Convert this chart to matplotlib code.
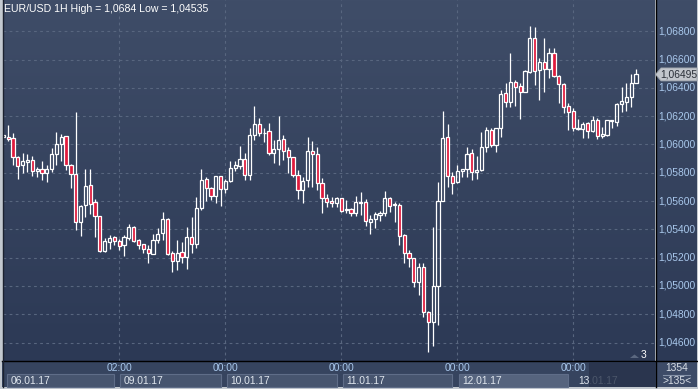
import numpy as np
import matplotlib
matplotlib.use('Agg')
import matplotlib.pyplot as plt
from matplotlib.patches import Rectangle, Polygon
from matplotlib.colors import LinearSegmentedColormap
import matplotlib.transforms as mtransforms

plt.rcParams['font.family'] = ['Liberation Sans', 'DejaVu Sans']

# ---------------- data (EUR/USD, 1H candles) ----------------
opens = [1.06055, 1.06051, 1.06044, 1.05910, 1.05853, 1.05879, 1.05888, 1.05811, 1.05825, 1.05797,
         1.05825, 1.05931, 1.06001, 1.06058, 1.05857, 1.05789, 1.05450, 1.05570, 1.05712, 1.05592,
         1.05493, 1.05250, 1.05313, 1.05346, 1.05316, 1.05292, 1.05341, 1.05417, 1.05323, 1.05295,
         1.05259, 1.05228, 1.05323, 1.05372, 1.05474, 1.05235, 1.05179, 1.05238, 1.05207, 1.05346,
         1.05295, 1.05549, 1.05754, 1.05691, 1.05638, 1.05775, 1.05683, 1.05740, 1.05836, 1.05848,
         1.05895, 1.05787, 1.06065, 1.06147, 1.06079, 1.06093, 1.05942, 1.05966, 1.06037, 1.05959,
         1.05910, 1.05782, 1.05678, 1.05749, 1.05954, 1.05931, 1.05726, 1.05620, 1.05599, 1.05585,
         1.05620, 1.05537, 1.05542, 1.05514, 1.05585, 1.05592, 1.05454, 1.05471, 1.05500, 1.05514,
         1.05620, 1.05570, 1.05573, 1.05358, 1.05231, 1.05196, 1.05026, 1.05132, 1.04818, 1.04748,
         1.05002, 1.05601, 1.06051, 1.05777, 1.05737, 1.05815, 1.05829, 1.05938, 1.05808, 1.05820,
         1.05980, 1.06103, 1.05996, 1.06115, 1.06362, 1.06302, 1.06440, 1.06411, 1.06373, 1.06510,
         1.06751, 1.06527, 1.06581, 1.06536, 1.06645, 1.06484, 1.06428, 1.06272, 1.06237, 1.06107,
         1.06112, 1.06150, 1.06098, 1.06173, 1.06062, 1.06067, 1.06168, 1.06161, 1.06284, 1.06302,
         1.06338, 1.06437]
highs = [1.06067, 1.06138, 1.06081, 1.05919, 1.05938, 1.05933, 1.05919, 1.05843, 1.05883, 1.05853,
         1.05977, 1.06086, 1.06076, 1.06060, 1.05860, 1.06230, 1.05573, 1.05825, 1.05825, 1.05615,
         1.05495, 1.05341, 1.05361, 1.05353, 1.05332, 1.05361, 1.05438, 1.05422, 1.05332, 1.05299,
         1.05288, 1.05365, 1.05408, 1.05525, 1.05481, 1.05250, 1.05325, 1.05313, 1.05419, 1.05486,
         1.05631, 1.05827, 1.05773, 1.05702, 1.05777, 1.05777, 1.05754, 1.05881, 1.05883, 1.05989,
         1.05942, 1.06115, 1.06272, 1.06185, 1.06119, 1.06150, 1.06032, 1.06201, 1.06067, 1.05982,
         1.05914, 1.05820, 1.05768, 1.06053, 1.06025, 1.05985, 1.05761, 1.05650, 1.05627, 1.05631,
         1.05624, 1.05608, 1.05553, 1.05638, 1.05662, 1.05615, 1.05502, 1.05521, 1.05532, 1.05671,
         1.05631, 1.05596, 1.05585, 1.05368, 1.05254, 1.05200, 1.05160, 1.05160, 1.04823, 1.05419,
         1.05733, 1.06237, 1.06145, 1.05806, 1.05853, 1.05827, 1.05985, 1.05968, 1.05919, 1.06086,
         1.06126, 1.06115, 1.06117, 1.06385, 1.06437, 1.06649, 1.06456, 1.06433, 1.06527, 1.06840,
         1.06833, 1.06609, 1.06755, 1.06680, 1.06684, 1.06489, 1.06437, 1.06291, 1.06256, 1.06180,
         1.06161, 1.06161, 1.06201, 1.06189, 1.06126, 1.06175, 1.06175, 1.06295, 1.06409, 1.06433,
         1.06496, 1.06534]
lows = [1.06053, 1.06027, 1.05855, 1.05758, 1.05797, 1.05808, 1.05777, 1.05768, 1.05749, 1.05737,
        1.05808, 1.05855, 1.05883, 1.05820, 1.05695, 1.05396, 1.05356, 1.05486, 1.05507, 1.05348,
        1.05243, 1.05243, 1.05262, 1.05290, 1.05254, 1.05214, 1.05325, 1.05313, 1.05259, 1.05231,
        1.05160, 1.05224, 1.05302, 1.05325, 1.05219, 1.05101, 1.05113, 1.05160, 1.05118, 1.05231,
        1.05271, 1.05537, 1.05603, 1.05608, 1.05587, 1.05565, 1.05659, 1.05733, 1.05813, 1.05829,
        1.05749, 1.05749, 1.06032, 1.06060, 1.06018, 1.05926, 1.05871, 1.05857, 1.05893, 1.05797,
        1.05768, 1.05615, 1.05585, 1.05698, 1.05702, 1.05678, 1.05514, 1.05556, 1.05556, 1.05560,
        1.05521, 1.05518, 1.05495, 1.05497, 1.05500, 1.05426, 1.05365, 1.05408, 1.05459, 1.05495,
        1.05525, 1.05454, 1.05290, 1.05160, 1.05132, 1.04995, 1.04936, 1.04783, 1.04535, 1.04576,
        1.04724, 1.05598, 1.05702, 1.05648, 1.05730, 1.05773, 1.05773, 1.05749, 1.05754, 1.05816,
        1.05945, 1.05980, 1.05945, 1.06051, 1.06267, 1.06267, 1.06272, 1.06182, 1.06369, 1.06508,
        1.06421, 1.06315, 1.06373, 1.06472, 1.06475, 1.06291, 1.06221, 1.06103, 1.06098, 1.06103,
        1.06048, 1.06048, 1.06086, 1.06039, 1.06044, 1.06062, 1.06115, 1.06131, 1.06232, 1.06239,
        1.06263, 1.06433]
closes = [1.06065, 1.06037, 1.05910, 1.05846, 1.05883, 1.05891, 1.05811, 1.05827, 1.05797, 1.05825,
          1.05931, 1.06001, 1.06053, 1.05853, 1.05789, 1.05450, 1.05563, 1.05709, 1.05582, 1.05495,
          1.05250, 1.05316, 1.05339, 1.05316, 1.05285, 1.05346, 1.05417, 1.05316, 1.05292, 1.05259,
          1.05231, 1.05323, 1.05365, 1.05474, 1.05224, 1.05179, 1.05235, 1.05207, 1.05346, 1.05295,
          1.05549, 1.05749, 1.05691, 1.05638, 1.05775, 1.05683, 1.05740, 1.05832, 1.05853, 1.05895,
          1.05782, 1.06065, 1.06147, 1.06079, 1.06083, 1.05942, 1.05966, 1.06032, 1.05956, 1.05910,
          1.05782, 1.05678, 1.05742, 1.05954, 1.05933, 1.05726, 1.05620, 1.05592, 1.05585, 1.05620,
          1.05532, 1.05542, 1.05514, 1.05592, 1.05592, 1.05459, 1.05471, 1.05509, 1.05514, 1.05620,
          1.05568, 1.05577, 1.05353, 1.05231, 1.05196, 1.05026, 1.05132, 1.04818, 1.04748, 1.05002,
          1.05601, 1.06044, 1.05777, 1.05730, 1.05813, 1.05825, 1.05931, 1.05804, 1.05820, 1.05980,
          1.06103, 1.05996, 1.06115, 1.06357, 1.06298, 1.06440, 1.06404, 1.06373, 1.06519, 1.06751,
          1.06522, 1.06581, 1.06532, 1.06645, 1.06484, 1.06425, 1.06267, 1.06232, 1.06115, 1.06115,
          1.06145, 1.06098, 1.06173, 1.06060, 1.06072, 1.06173, 1.06173, 1.06286, 1.06307, 1.06336,
          1.06437, 1.06495]

price_ticks = [1.046, 1.048, 1.050, 1.052, 1.054, 1.056, 1.058, 1.060, 1.062, 1.064, 1.066, 1.068]
price_labels = ['1,04600', '1,04800', '1,05000', '1,05200', '1,05400', '1,05600',
                '1,05800', '1,06000', '1,06200', '1,06400', '1,06600', '1,06800']
day_breaks = [24, 46, 70, 94, 118]          # candle index of each time label
time_labels = ['02:00', '00:00', '00:00', '00:00', '00:00']
date_labels = ['06.01.17', '09.01.17', '10.01.17', '11.01.17', '12.01.17', '13.01.17']
last_price = 1.06495
last_label = '1,06495'
title_text = 'EUR/USD 1H High = 1,0684 Low = 1,04535'
bars_total = '1354'
bars_visible = '>135<'
marker_text = '3'

FS = 7.4

# ---------------- figure ----------------
W, H = 698, 389
fig = plt.figure(figsize=(W / 100, H / 100), dpi=100, facecolor='#c3c9d0')

bg = fig.add_axes([0, 0, 1, 1], zorder=-1)
bg.set_xlim(0, W)
bg.set_ylim(H, 0)
bg.axis('off')

bg.add_patch(Rectangle((2, 361), 695, 26, facecolor='#36445f', edgecolor='none'))
bg.add_patch(Rectangle((656, 361), 41, 26, facecolor='#3d4b67', edgecolor='none'))

grad_cmap = LinearSegmentedColormap.from_list('bgc', ['#3f4d68', '#2c3955'])
grad = np.linspace(0, 1, 256).reshape(-1, 1)
bg.imshow(grad, extent=[656, 697, 361, 0], aspect='auto', cmap=grad_cmap, zorder=0)
bg.set_xlim(0, W)
bg.set_ylim(H, 0)

# main chart axes
L, R, T, B = 3, 655, 0, 361
ax = fig.add_axes([L / W, (H - B) / H, (R - L) / W, (B - T) / H], zorder=1)
x0, x1 = -0.06, 134.93
y0, y1 = 1.04470, 1.07021
ax.imshow(grad, extent=[x0, x1, y0, y1], aspect='auto', cmap=grad_cmap, zorder=0)
ax.set_xlim(x0, x1)
ax.set_ylim(y0, y1)
ax.set_xticks([])
ax.set_yticks([])
for s in ax.spines.values():
    s.set_visible(False)

# grid
for p in price_ticks:
    ax.axhline(p, color='#58667f', lw=0.8, ls=(0, (2.5, 3)), zorder=1)
for d in day_breaks:
    ax.axvline(d, color='#58667f', lw=0.8, ls=(0, (2.5, 3)), zorder=1)

# candles
idx = np.arange(len(opens))
o = np.array(opens); h = np.array(highs); l = np.array(lows); c = np.array(closes)
top = np.maximum(o, c)
bot = np.minimum(o, c)
ax.vlines(idx, top, h, color='white', lw=0.9, zorder=2)
ax.vlines(idx, l, bot, color='white', lw=0.9, zorder=2)
up = c >= o
bw = 0.66
ax.bar(idx[up], (top - bot)[up], bottom=bot[up], width=bw, facecolor='none',
       edgecolor='white', linewidth=0.9, zorder=3)
ax.bar(idx[~up], (top - bot)[~up], bottom=bot[~up], width=bw, facecolor='#e01a3c',
       edgecolor='white', linewidth=0.9, zorder=3)

# separators
fig.add_artist(plt.Line2D([2 / W, 697 / W], [(H - 361) / H] * 2, color='black', lw=1.0,
                          transform=fig.transFigure, zorder=5))
fig.add_artist(plt.Line2D([655.5 / W] * 2, [(H - 387) / H, 1], color='black', lw=1.0,
                          transform=fig.transFigure, zorder=5))
fig.add_artist(plt.Line2D([2.5 / W] * 2, [(H - 387) / H, 1], color='#1c2230', lw=1.0,
                          transform=fig.transFigure, zorder=5))

# right price labels
trans_r = mtransforms.blended_transform_factory(bg.transData, ax.transData)
for p, s in zip(price_ticks, price_labels):
    bg.text(658, p, s, transform=trans_r, fontsize=FS, color='#a9c8ec', va='center', ha='left',
            zorder=6, clip_on=False)

# current price tag
fig.canvas.draw()
ypx = H - ax.transData.transform((0, last_price))[1]
tag = Polygon([(655.5, ypx), (661, ypx - 6.5), (697, ypx - 6.5), (697, ypx + 6.5), (661, ypx + 6.5)],
              closed=True, facecolor='#c2c6cc', edgecolor='#9aa0a8', lw=0.6, zorder=7,
              transform=bg.transData)
fig.add_artist(tag)
fig.text(678.5 / W, 1 - ypx / H, last_label, fontsize=FS, color='#2a2f38', ha='center', va='center',
         zorder=8)

# bottom axis: time labels and date boxes
trans_b = mtransforms.blended_transform_factory(ax.transData, bg.transData)
for d, s in zip(day_breaks, time_labels):
    t = plt.Text(d, 368, s, fontsize=FS, color='#a9c8ec', ha='center', va='center',
                 transform=trans_b, zorder=8)
    fig.add_artist(t)

starts = [0.8] + [d + 0.25 for d in day_breaks]
ends = [d - 1.0 for d in day_breaks] + [None]
for i, s in enumerate(date_labels):
    xs = starts[i]
    if ends[i] is not None:
        fc = '#56647e' if i == 4 else '#47556f'
        box = Rectangle((xs, 374), ends[i] - xs, 13, facecolor=fc, edgecolor='#5f6d88', lw=0.8,
                        transform=trans_b, zorder=6)
        fig.add_artist(box)
    t = plt.Text(xs + 0.75, 380.5, s, fontsize=FS, color='#dfe6ee', ha='left', va='center',
                 transform=trans_b, zorder=8)
    fig.add_artist(t)

# dark overlay at the right end of the time axis
fig.add_artist(Rectangle((589, 362), 66, 25, facecolor='#27324a', edgecolor='none', alpha=0.8,
                         transform=bg.transData, zorder=9))

# bars counter box
fig.text(677 / W, 1 - 368 / H, bars_total, fontsize=FS, color='#d8dee6', ha='center', va='center', zorder=8)
fig.add_artist(plt.Line2D([663 / W, 690 / W], [1 - 374.5 / H] * 2, color='#8592a8', lw=0.8,
                          transform=fig.transFigure, zorder=8))
fig.text(677 / W, 1 - 381 / H, bars_visible, fontsize=FS, color='#d8dee6', ha='center', va='center', zorder=8)

# small marker in lower right of the chart
fig.add_artist(Polygon([(630, 358), (634.5, 354.5), (639, 358)], closed=True, facecolor='#5b6880',
                       edgecolor='none', transform=bg.transData, zorder=8))
fig.text(643 / W, 1 - 355 / H, marker_text, fontsize=FS, color='white', ha='center', va='center', zorder=8)

# title
fig.text(4 / W, 1 - 8.5 / H, title_text, fontsize=7.6, color='white', ha='left', va='center', zorder=10)

fig.savefig('out.png', dpi=100, facecolor=fig.get_facecolor())
